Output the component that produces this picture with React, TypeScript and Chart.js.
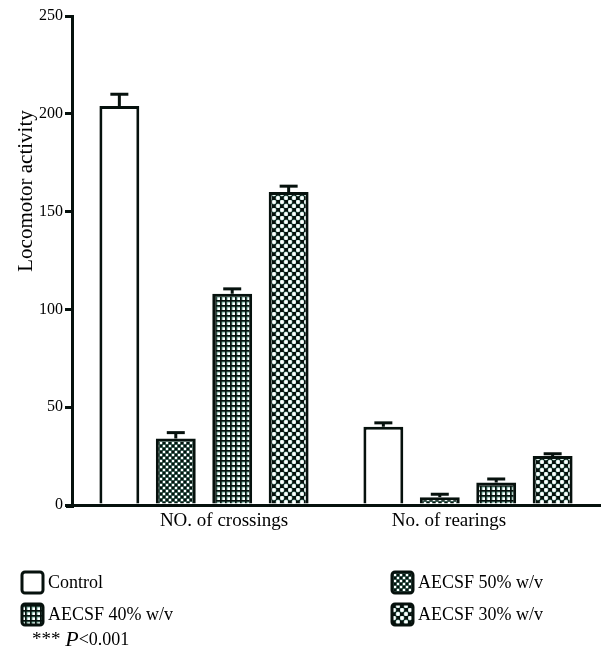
import { useEffect, useRef } from "react";
import { Chart, registerables } from "chart.js";

Chart.register(...registerables);

const categories = ["NO. of crossings", "No. of rearings"];
const seriesNames = ["Control", "AECSF 50% w/v", "AECSF 40% w/v", "AECSF 30% w/v"];
const controlValues = [204, 40];
const aecsf50Values = [34, 4];
const aecsf40Values = [108, 11.5];
const aecsf30Values = [160, 25];
const controlErrors = [6, 2];
const aecsf50Errors = [3, 1.5];
const aecsf40Errors = [2.5, 1.8];
const aecsf30Errors = [3, 1.2];
const yTickValues = [0, 50, 100, 150, 200, 250];
const yTitle = "Locomotor activity";
const footnoteStars = "*** ";
const footnoteP = "P";
const footnoteRest = "<0.001";

const INK = "#06110d";
const TEAL = "#6fa898";
const SERIF = "'Liberation Serif', 'Times New Roman', serif";

function makeTile(kind: string): HTMLCanvasElement {
  const c = document.createElement("canvas");
  const ctx = c.getContext("2d")!;
  if (kind === "check") {
    c.width = 6;
    c.height = 6;
    ctx.fillStyle = INK;
    ctx.fillRect(0, 0, 6, 6);
    ctx.fillStyle = TEAL;
    ctx.fillRect(0.5, 0.5, 3, 3);
    ctx.fillRect(3.5, 3.5, 3, 3);
    ctx.fillRect(-2.5, 3.5, 3, 3);
    ctx.fillRect(3.5, -2.5, 3, 3);
    ctx.fillStyle = "#ffffff";
    ctx.fillRect(1, 1, 2, 2);
    ctx.fillRect(4, 4, 2, 2);
  } else if (kind === "grid") {
    c.width = 5;
    c.height = 5;
    ctx.fillStyle = "#ffffff";
    ctx.fillRect(0, 0, 5, 5);
    ctx.fillStyle = TEAL;
    ctx.fillRect(0, 0, 5, 2.5);
    ctx.fillRect(0, 0, 2.5, 5);
    ctx.fillStyle = INK;
    ctx.fillRect(0, 0, 5, 1.6);
    ctx.fillRect(0, 0, 1.6, 5);
  } else if (kind === "diamond") {
    c.width = 8;
    c.height = 8;
    ctx.fillStyle = INK;
    ctx.fillRect(0, 0, 8, 8);
    const dots = [
      [2, 2],
      [6, 6],
    ];
    ctx.fillStyle = TEAL;
    dots.forEach(([x, y]) => {
      ctx.beginPath();
      ctx.arc(x, y, 2.4, 0, Math.PI * 2);
      ctx.fill();
    });
    ctx.fillStyle = "#ffffff";
    dots.forEach(([x, y]) => {
      ctx.beginPath();
      ctx.arc(x, y, 1.9, 0, Math.PI * 2);
      ctx.fill();
    });
  } else {
    c.width = 4;
    c.height = 4;
    ctx.fillStyle = "#ffffff";
    ctx.fillRect(0, 0, 4, 4);
  }
  return c;
}

export default function App() {
  const canvasRef = useRef<HTMLCanvasElement | null>(null);

  useEffect(() => {
    const canvas = canvasRef.current;
    if (!canvas) return;
    const ctx = canvas.getContext("2d")!;
    const fills = ["plain", "check", "grid", "diamond"].map(
      (k) => ctx.createPattern(makeTile(k), "repeat") as CanvasPattern
    );
    const valueSets = [controlValues, aecsf50Values, aecsf40Values, aecsf30Values];
    const errorSets = [controlErrors, aecsf50Errors, aecsf40Errors, aecsf30Errors];

    const errorBarPlugin = {
      id: "errorBars",
      afterDatasetsDraw(chart: any) {
        const c = chart.ctx;
        const y = chart.scales.y;
        c.save();
        c.strokeStyle = INK;
        c.lineWidth = 3;
        c.lineCap = "butt";
        chart.data.datasets.forEach((ds: any, i: number) => {
          const meta = chart.getDatasetMeta(i);
          meta.data.forEach((bar: any, j: number) => {
            const v = ds.data[j];
            const e = ds.errors[j];
            const yTop = y.getPixelForValue(v + e);
            const x = bar.x;
            c.beginPath();
            c.moveTo(x, bar.y);
            c.lineTo(x, yTop);
            c.stroke();
            c.beginPath();
            c.moveTo(x - 9, yTop);
            c.lineTo(x + 9, yTop);
            c.stroke();
          });
        });
        c.restore();
      },
    };

    const textPlugin = {
      id: "texts",
      afterDraw(chart: any) {
        const c = chart.ctx;
        const xs = chart.scales.x;
        c.save();
        c.fillStyle = "#000";
        // extend x axis slightly left of the y axis
        c.strokeStyle = INK;
        c.lineWidth = 3;
        c.beginPath();
        c.moveTo(66, chart.chartArea.bottom + 1.5);
        c.lineTo(74, chart.chartArea.bottom + 1.5);
        c.stroke();
        // category labels
        const shifts = [20, -19];
        c.font = `19px ${SERIF}`;
        c.textAlign = "center";
        c.textBaseline = "middle";
        categories.forEach((lab, i) => {
          c.fillText(lab, xs.getPixelForValue(i) + shifts[i], 521);
        });
        // y title
        c.save();
        c.translate(26, 191);
        c.rotate(-Math.PI / 2);
        c.font = `21px ${SERIF}`;
        c.textAlign = "center";
        c.textBaseline = "middle";
        c.fillText(yTitle, 0, 0);
        c.restore();
        // legend
        const spots = [
          { x: 22, y: 572 },
          { x: 392, y: 572 },
          { x: 22, y: 604 },
          { x: 392, y: 604 },
        ];
        seriesNames.forEach((name, i) => {
          const s = spots[i];
          const w = 21;
          c.beginPath();
          if (c.roundRect) c.roundRect(s.x, s.y, w, w, 3);
          else c.rect(s.x, s.y, w, w);
          c.fillStyle = fills[i];
          c.fill();
          c.lineWidth = 3;
          c.strokeStyle = INK;
          c.stroke();
          c.fillStyle = "#000";
          c.font = `18px ${SERIF}`;
          c.textAlign = "left";
          c.textBaseline = "middle";
          c.fillText(name, s.x + w + 5, s.y + w / 2 + 1);
        });
        // footnote
        let fx = 32;
        const fy = 640;
        c.font = `19px ${SERIF}`;
        c.fillText(footnoteStars, fx, fy);
        fx += c.measureText(footnoteStars).width;
        c.font = `italic 22px ${SERIF}`;
        c.fillText(footnoteP, fx, fy);
        fx += c.measureText(footnoteP).width;
        c.font = `18px ${SERIF}`;
        c.fillText(footnoteRest, fx, fy);
        c.restore();
      },
    };

    const chart = new Chart(canvas, {
      type: "bar",
      data: {
        labels: categories,
        datasets: seriesNames.map((name, i) => ({
          label: name,
          data: valueSets[i],
          errors: errorSets[i],
          backgroundColor: fills[i],
          borderColor: INK,
          borderWidth: 3,
          categoryPercentage: 0.855,
          barPercentage: 0.707,
        })) as any,
      },
      options: {
        animation: false,
        responsive: false,
        devicePixelRatio: 1,
        layout: { padding: { left: 0, right: 5, top: 16, bottom: 0 } },
        plugins: {
          legend: { display: false },
          tooltip: { enabled: false },
          title: { display: false },
        },
        scales: {
          x: {
            type: "category",
            offset: true,
            grid: { display: false },
            border: { display: true, width: 3, color: INK },
            ticks: { display: false },
            afterFit: (s: any) => {
              s.height = 145;
            },
          },
          y: {
            min: 0,
            max: 250,
            afterBuildTicks: (s: any) => {
              s.ticks = yTickValues.map((v) => ({ value: v }));
            },
            grid: {
              display: true,
              drawOnChartArea: false,
              drawTicks: true,
              tickLength: 7,
              lineWidth: 3,
              color: INK,
            },
            border: { display: true, width: 3, color: INK },
            ticks: {
              font: { family: SERIF, size: 16 },
              color: "#000",
              padding: 2,
            },
            afterFit: (s: any) => {
              s.width = 72;
            },
          },
        },
      } as any,
      plugins: [errorBarPlugin, textPlugin],
    });
    return () => chart.destroy();
  }, []);

  return (
    <div style={{ position: "absolute", left: 0, top: 0, width: 605, height: 650, background: "#fff" }}>
      <canvas ref={canvasRef} width={605} height={650} />
    </div>
  );
}
